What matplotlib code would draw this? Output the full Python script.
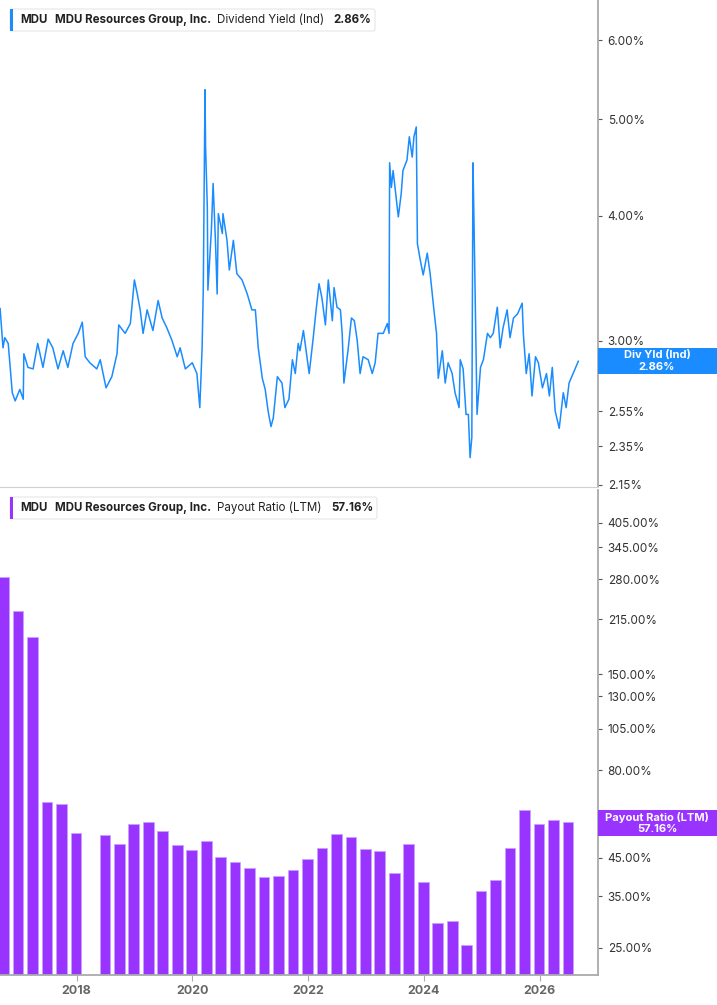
import matplotlib
matplotlib.use("Agg")
import matplotlib.pyplot as plt
import numpy as np

plt.rcParams['font.family'] = ['Inter', 'DejaVu Sans']

# Dividend yield (%) by decimal year
yield_dates = [16.68,16.73,16.76,16.82,16.89,16.94,17.02,17.08,17.09,17.16,17.25,17.33,17.42,17.51,17.59,17.68,17.77,17.85,17.94,
 18.03,18.10,18.15,18.23,18.35,18.41,18.51,18.61,18.70,18.73,18.84,18.93,19.00,19.05,19.10,19.15,19.22,19.32,19.41,19.48,19.56,19.65,19.74,19.79,19.88,
 20.00,20.08,20.13,20.17,20.19,20.22,20.23,20.26,20.27,20.33,20.36,20.40,20.43,20.45,20.52,20.53,20.60,20.64,20.71,20.77,20.86,20.95,
 21.03,21.09,21.14,21.21,21.26,21.31,21.36,21.40,21.47,21.55,21.60,21.67,21.73,21.78,21.83,21.86,21.92,21.95,
 22.02,22.09,22.14,22.19,22.24,22.30,22.35,22.42,22.45,22.50,22.56,22.59,22.62,22.69,22.75,22.80,22.85,22.90,22.95,
 23.04,23.11,23.16,23.21,23.30,23.37,23.40,23.41,23.44,23.47,23.54,23.56,23.61,23.64,23.71,23.75,23.80,23.83,23.87,23.89,23.94,23.99,
 24.06,24.11,24.17,24.22,24.25,24.32,24.37,24.42,24.49,24.54,24.61,24.63,24.68,24.73,24.77,24.80,24.83,24.85,24.87,24.92,24.98,
 25.03,25.10,25.15,25.20,25.27,25.32,25.37,25.44,25.49,25.55,25.62,25.70,25.72,25.77,25.82,25.87,25.93,25.98,
 26.05,26.12,26.17,26.22,26.27,26.34,26.41,26.46,26.51,26.58,26.67]
yield_values = [3.23,2.95,3.02,2.98,2.66,2.61,2.68,2.62,2.91,2.82,2.81,2.98,2.82,3.01,2.95,2.81,2.93,2.82,2.98,
 3.05,3.13,2.89,2.85,2.81,2.87,2.69,2.76,2.91,3.11,3.05,3.12,3.45,3.34,3.22,3.05,3.22,3.07,3.29,3.16,3.09,3.00,2.89,2.95,2.81,
 2.85,2.78,2.57,2.95,3.37,5.35,4.69,4.08,3.37,3.87,4.31,3.78,3.34,4.02,3.84,4.02,3.78,3.53,3.78,3.50,3.45,3.34,
 3.22,3.22,2.95,2.75,2.68,2.55,2.46,2.51,2.76,2.72,2.57,2.62,2.87,2.78,2.98,2.93,3.07,2.98,
 2.78,3.02,3.22,3.42,3.31,3.11,3.45,3.14,3.39,3.24,3.22,3.05,2.72,2.93,3.16,3.14,3.00,2.78,2.89,
 2.87,2.78,2.85,3.05,3.05,3.12,3.05,4.52,4.27,4.44,4.08,3.99,4.21,4.44,4.55,4.80,4.58,4.80,4.91,3.75,3.61,3.49,
 3.67,3.50,3.24,3.05,2.75,2.93,2.72,2.85,2.78,2.66,2.57,2.87,2.81,2.53,2.53,2.29,2.40,4.52,3.87,2.53,2.82,
 2.87,3.05,3.02,3.05,3.24,2.95,3.09,3.22,3.02,3.16,3.19,3.27,3.05,2.78,2.91,2.64,2.89,2.85,
 2.69,2.78,2.64,2.82,2.55,2.45,2.66,2.57,2.72,2.78,2.86]

# Payout ratio (%) quarterly
payout_dates = [16.74+0.25*i for i in range(40)]
payout_values = [284,227,191,65,63.9,53,np.nan,52.2,49.2,56.2,57,53.8,49.1,47.3,50.2,45.4,43.8,42.2,39.7,40,
 41.6,44.8,47.9,52.7,51.7,47.6,47.1,40.8,49.3,38.4,29.4,29.8,25.5,36.2,39,48,61.7,56.2,57.8,57.1]

top_ticks = [6.00,5.00,4.00,3.00,2.55,2.35,2.15]
bot_ticks = [405,345,280,215,150,130,105,80,45,35,25]
year_ticks = [2018,2020,2022,2024,2026]

W, H = 717, 1005
fig = plt.figure(figsize=(W/100, H/100), dpi=100)
ax_r = 598/W
ax1 = fig.add_axes([0, 1-487/H, ax_r, 487/H])
ax2 = fig.add_axes([0, 1-975/H, ax_r, 485/H])

blue = '#1a8cff'
purple = '#9933ff'
grey = '#555555'
xmin, xmax = 2016.678, 2027.01
base = 20.9

ax1.plot([2000+d for d in yield_dates], yield_values, color=blue, lw=1.1)
ax1.set_yscale('log')
ax1.set_ylim(2.14, 6.58)
ax2.bar([2000+d for d in payout_dates], [v - base for v in payout_values], width=0.185, color=purple,
        edgecolor='#c9a0ff', linewidth=0.6, bottom=base)
ax2.set_yscale('log')
ax2.set_ylim(base, 502)

for ax, ticks in [(ax1, top_ticks), (ax2, bot_ticks)]:
    ax.set_xlim(xmin, xmax)
    ax.yaxis.tick_right()
    ax.set_yticks(ticks)
    ax.set_yticklabels(['{:.2f}%'.format(t) for t in ticks])
    ax.yaxis.set_minor_locator(matplotlib.ticker.NullLocator())
    ax.tick_params(axis='y', length=3, color=grey, labelsize=8.5, labelcolor='#333333', pad=4)
    for s in ['top', 'left']:
        ax.spines[s].set_visible(False)
    ax.spines['right'].set_color('#aaaaaa')
    ax.spines['right'].set_linewidth(1.3)

ax1.spines['bottom'].set_color('#d0d0d0')
ax1.set_xticks([])
ax2.spines['bottom'].set_color('#aaaaaa')
ax2.spines['bottom'].set_linewidth(1.3)
ax2.set_xticks(year_ticks)
ax2.set_xticklabels([str(y) for y in year_ticks], fontweight='bold', color='#666666', fontsize=9)
ax2.tick_params(axis='x', length=4, color='#aaaaaa')

def legend(y_px, col, metric, val, width_px):
    y = 1 - y_px/H
    fig.patches.append(matplotlib.patches.FancyBboxPatch((10/W, y-11/H), width_px/W, 22/H,
        boxstyle='round,pad=0,rounding_size=0.003', transform=fig.transFigure,
        facecolor='white', edgecolor='#e6e6e6', lw=0.8))
    fig.patches.append(matplotlib.patches.Rectangle((10/W, y-11/H), 3/W, 22/H,
        transform=fig.transFigure, facecolor=col, edgecolor='none'))
    fig.text(20/W, y, 'MDU', fontsize=8.3, fontweight='bold', va='center', color='#222')
    fig.text(55/W, y, 'MDU Resources Group, Inc.', fontsize=8.3, fontweight='bold', va='center', color='#222')
    t = fig.text(217/W, y, metric + '   ', fontsize=8.3, va='center', color='#222')
    fig.canvas.draw()
    bb = t.get_window_extent()
    fig.text(bb.x1/W, y, val, fontsize=8.3, fontweight='bold', va='center', color='#222')

legend(20, blue, 'Dividend Yield (Ind)', '2.86%', 365)
legend(508, purple, 'Payout Ratio (LTM)', '57.16%', 367)

def tag(y0, y1, col, l1, l2):
    fig.patches.append(matplotlib.patches.Rectangle((598/W, 1-y1/H), 119/W, (y1-y0)/H,
        transform=fig.transFigure, facecolor=col, edgecolor='none'))
    fig.text(657/W, 1-(y0+7)/H, l1, fontsize=8, fontweight='bold', color='white', ha='center', va='center')
    fig.text(657/W, 1-(y1-7)/H, l2, fontsize=8, fontweight='bold', color='white', ha='center', va='center')

tag(348, 374, blue, 'Div Yld (Ind)', '2.86%')
tag(810, 836, purple, 'Payout Ratio (LTM)', '57.16%')

fig.savefig('out.png', dpi=100)
